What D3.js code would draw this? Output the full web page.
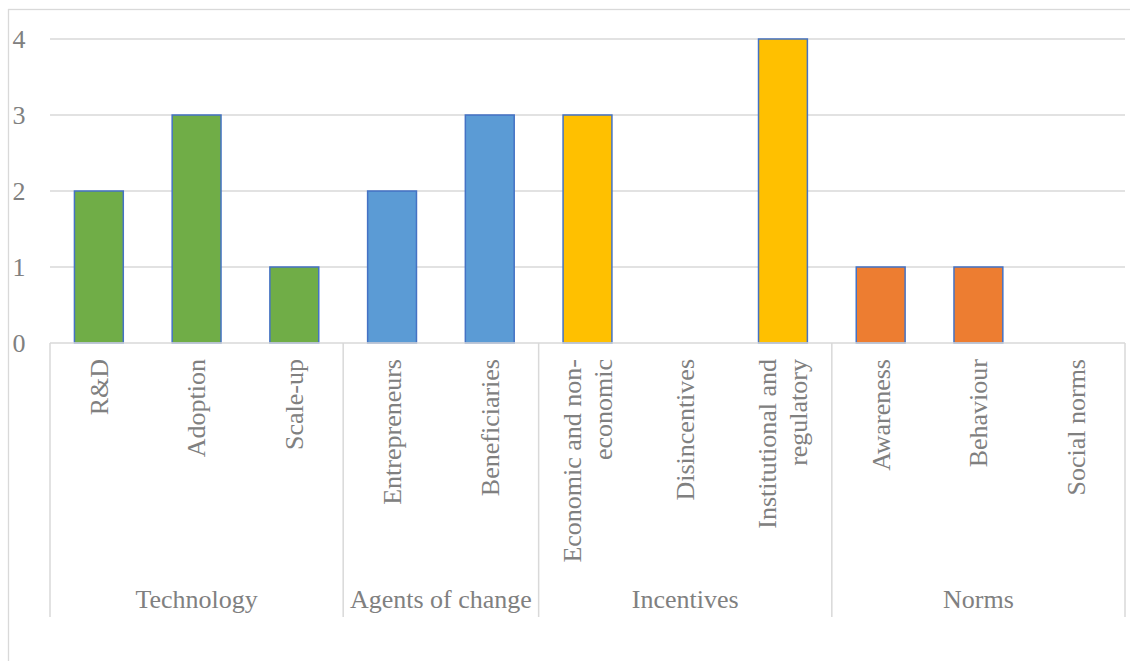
<!DOCTYPE html>
<html><head><meta charset="utf-8">
<script src="https://cdn.jsdelivr.net/npm/d3@7"></script>
<style>body{margin:0;background:#fff}svg{display:block}</style>
</head><body>
<svg id="c" width="1130" height="661"></svg>
<script>
const categories = ["R&D","Adoption","Scale-up","Entrepreneurs","Beneficiaries","Economic and non-|economic","Disincentives","Institutional and|regulatory","Awareness","Behaviour","Social norms"];
const groups = ["Technology","Technology","Technology","Agents of change","Agents of change","Incentives","Incentives","Incentives","Norms","Norms","Norms"];
const values = [2,3,1,2,3,3,0,4,1,1,0];
const groupColors = {"Technology":"#70AD47","Agents of change":"#5B9BD5","Incentives":"#FFC000","Norms":"#ED7D31"};
const yTicks = [0,1,2,3,4];

const svg = d3.select("#c");
const font = "'Liberation Serif','Times New Roman',serif";
const txt = "#808080", grid = "#d9d9d9";
const L = 50, R = 1125, T = 39, B = 343;
const fs = 26;

svg.append("rect").attr("x",8.5).attr("y",9.5).attr("width",1140).attr("height",700)
  .attr("fill","none").attr("stroke",grid).attr("stroke-width",1.3);

const x = d3.scaleBand().domain(d3.range(categories.length)).range([L,R]).paddingInner(0.5).paddingOuter(0.25);
const xb = d3.scaleBand().domain(d3.range(categories.length)).range([L,R]);
const y = d3.scaleLinear().domain([0,4]).range([B,T]);

// gridlines
svg.append("g").selectAll("line").data(yTicks.filter(d=>d>0)).join("line")
  .attr("x1",L).attr("x2",R).attr("y1",d=>y(d)).attr("y2",d=>y(d))
  .attr("stroke",grid).attr("stroke-width",1.5);

// y tick labels
svg.append("g").selectAll("text").data(yTicks).join("text")
  .attr("x",25.5).attr("y",d=>y(d)).attr("dy","0.34em").attr("text-anchor","end")
  .attr("font-family",font).attr("font-size",fs).attr("fill",txt).text(d=>d);

// bars
svg.append("g").selectAll("rect").data(values).join("rect")
  .attr("x",(d,i)=>x(i)).attr("width",x.bandwidth())
  .attr("y",d=>y(d)).attr("height",d=>y(0)-y(d))
  .attr("fill",(d,i)=>groupColors[groups[i]])
  .attr("stroke",d=>d>0?"#4472C4":"none").attr("stroke-width",1.5);

// baseline
svg.append("line").attr("x1",L).attr("x2",R).attr("y1",B).attr("y2",B)
  .attr("stroke",grid).attr("stroke-width",1.5);

// group boundaries
const uniq = [...new Set(groups)];
const bounds = [0];
uniq.forEach(g=>{ bounds.push(groups.lastIndexOf(g)+1); });
svg.append("g").selectAll("line").data(bounds).join("line")
  .attr("x1",i=>i<categories.length?xb(i):R).attr("x2",i=>i<categories.length?xb(i):R)
  .attr("y1",B).attr("y2",617).attr("stroke",grid).attr("stroke-width",1.5);

// category labels
const lab = svg.append("g").selectAll("g").data(categories).join("g")
  .attr("transform",(d,i)=>`translate(${xb(i)+xb.bandwidth()/2},359) rotate(-90)`);
lab.each(function(d){
  const lines = d.split("|");
  const t = d3.select(this).append("text").attr("text-anchor","end")
    .attr("font-family",font).attr("font-size",fs).attr("fill",txt);
  const lh = 31;
  lines.forEach((s,k)=>{
    t.append("tspan").attr("x",0).attr("y",(k-(lines.length-1)/2)*lh).attr("dy","0.34em").text(s);
  });
});

// group labels
svg.append("g").selectAll("text").data(uniq).join("text")
  .attr("x",g=>{const a=groups.indexOf(g), b=groups.lastIndexOf(g); return (xb(a)+xb(b)+xb.bandwidth())/2;})
  .attr("y",608).attr("text-anchor","middle")
  .attr("font-family",font).attr("font-size",fs).attr("fill",txt).text(g=>g);
</script>
</body></html>
